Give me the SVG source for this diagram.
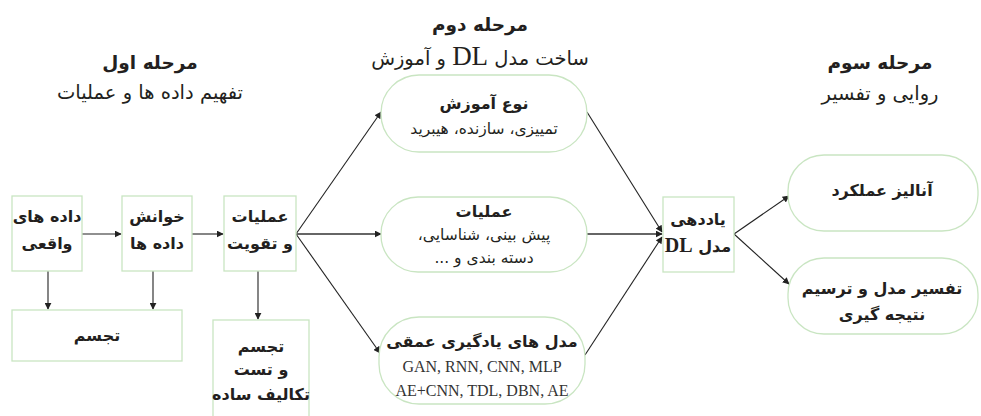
<svg xmlns="http://www.w3.org/2000/svg" width="981" height="416" viewBox="0 0 981 416">
<defs>
<style>
.box{fill:#fff;stroke:#c9e5c2;stroke-width:1.3}
.fa{font-family:"DejaVu Sans","Noto Sans",sans-serif;fill:#231f20;direction:rtl;text-anchor:middle}
.b{font-weight:bold;font-size:16px}
.r{font-size:15.5px}
.h{font-size:19.5px}
.hb{font-weight:bold;font-size:18.5px}
.lat{font-family:"Liberation Serif",serif;fill:#333;font-size:16px;text-anchor:middle}
.c{stroke:#222;stroke-width:1.1;fill:none;marker-end:url(#ah)}
.cg{stroke:#666;stroke-width:2;fill:none;marker-end:url(#ah)}
</style>
<marker id="ah" viewBox="0 0 10 10" refX="9" refY="5" markerWidth="7" markerHeight="7" markerUnits="userSpaceOnUse" orient="auto">
<path d="M0,0 L10,5 L0,10 z" fill="#222"/>
</marker>
</defs>
<rect width="981" height="416" fill="#fff"/>

<g id="headers">
<text class="fa hb" x="150" y="69">مرحله اول</text>
<text class="fa h" x="150" y="99">تفهیم داده ها و عملیات</text>
<text class="fa hb" x="480" y="31">مرحله دوم</text>
<text class="fa h" x="480" y="65">ساخت مدل <tspan font-family="Liberation Serif" font-size="27">DL</tspan> و آموزش</text>
<text class="fa hb" x="880" y="69">مرحله سوم</text>
<text class="fa h" x="880" y="100">روایی و تفسیر</text>
</g>

<g id="connectors">
<line class="c" x1="82" y1="234" x2="121" y2="234"/>
<line class="c" x1="192" y1="234" x2="223" y2="234"/>
<line class="c" x1="48" y1="271" x2="48" y2="309"/>
<line class="c" x1="153" y1="271" x2="153" y2="309"/>
<line class="c" x1="258" y1="271" x2="258" y2="319"/>
<line class="c" x1="296" y1="234" x2="381" y2="112"/>
<line class="cg" x1="296" y1="234" x2="381" y2="234"/>
<line class="c" x1="296" y1="234" x2="380" y2="353"/>
<line class="c" x1="587" y1="112" x2="662" y2="232"/>
<line class="cg" x1="587" y1="234" x2="662" y2="234"/>
<line class="c" x1="585" y1="355" x2="662" y2="237"/>
<line class="c" x1="734" y1="234" x2="789" y2="196"/>
<line class="c" x1="734" y1="234" x2="789" y2="284"/>
</g>

<g id="n1">
<rect class="box" x="12" y="196" width="70" height="75"/>
<text class="fa b" x="47" y="222">داده های</text>
<text class="fa b" x="47" y="249">واقعی</text>
</g>
<g id="n2">
<rect class="box" x="122" y="196" width="70" height="75"/>
<text class="fa b" x="157" y="222">خوانش</text>
<text class="fa b" x="157" y="249">داده ها</text>
</g>
<g id="n3">
<rect class="box" x="224" y="196" width="72" height="75"/>
<text class="fa b" x="260" y="222">عملیات</text>
<text class="fa b" x="260" y="249">و تقویت</text>
</g>
<g id="n4">
<rect class="box" x="12" y="310" width="170" height="51"/>
<text class="fa b" x="97" y="341">تجسم</text>
</g>
<g id="n5">
<rect class="box" x="213" y="320" width="96" height="100"/>
<text class="fa b" x="261" y="352">تجسم</text>
<text class="fa b" x="261" y="375">و تست</text>
<text class="fa b" x="261" y="400">تکالیف ساده</text>
</g>
<g id="n6">
<rect class="box" x="381" y="75" width="206" height="77" rx="38"/>
<text class="fa b" x="484" y="109">نوع آموزش</text>
<text class="fa r" x="484" y="134">تمییزی، سازنده، هیبرید</text>
</g>
<g id="n7">
<rect class="box" x="381" y="197" width="206" height="75" rx="37"/>
<text class="fa b" x="484" y="217">عملیات</text>
<text class="fa r" x="484" y="240">پیش بینی، شناسایی،</text>
<text class="fa r" x="484" y="263">دسته بندی و ...</text>
</g>
<g id="n8">
<rect class="box" x="379" y="317" width="206" height="87" rx="40"/>
<text class="fa b" x="482" y="347">مدل های یادگیری عمقی</text>
<text class="lat" x="482" y="372">GAN, RNN, CNN, MLP</text>
<text class="lat" x="482" y="396">AE+CNN, TDL, DBN, AE</text>
</g>
<g id="n9">
<rect class="box" x="663" y="197" width="71" height="75"/>
<text class="fa b" x="698" y="225">یاددهی</text>
<text class="fa b" x="698" y="252">مدل <tspan font-family="Liberation Serif" font-size="20">DL</tspan></text>
</g>
<g id="n10">
<rect class="box" x="788" y="155" width="190" height="76" rx="36"/>
<text class="fa b" x="882" y="196">آنالیز عملکرد</text>
</g>
<g id="n11">
<rect class="box" x="788" y="258" width="190" height="76" rx="36"/>
<text class="fa b" x="882" y="294">تفسیر مدل و ترسیم</text>
<text class="fa b" x="882" y="320">نتیجه گیری</text>
</g>
</svg>
